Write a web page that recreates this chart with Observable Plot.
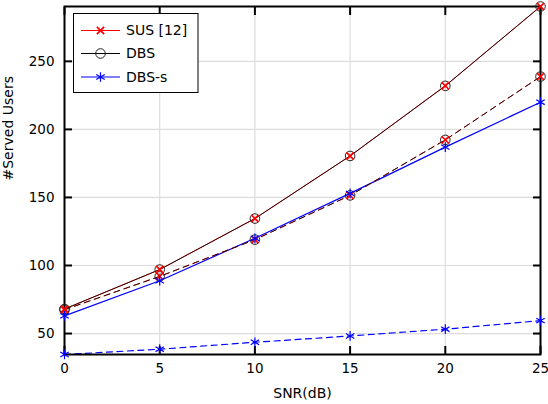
<!DOCTYPE html>
<html>
<head>
<meta charset="utf-8">
<script src="https://cdn.jsdelivr.net/npm/d3@7"></script>
<script src="https://cdn.jsdelivr.net/npm/@observablehq/plot@0.6"></script>
<style>
  body { margin: 0; background: #fff; }
  #wrap { position: relative; width: 548px; height: 404px; }
  #legend { position: absolute; left: 0; top: 0; pointer-events: none; }
</style>
</head>
<body>
<div id="wrap"></div>
<script>
// ---- data ----
const snr = [0, 5, 10, 15, 20, 25];
const xTicks = [0, 5, 10, 15, 20, 25];
const yTicks = [50, 100, 150, 200, 250];
const xDomain = [0, 25];
const yDomain = [34.6, 290.3];

const susSolid   = [68, 97, 134.5, 180.5, 232, 290.3];
const dbsSolid   = [68, 97, 134.5, 180.5, 232, 290.3];
const susDashed  = [67.5, 92, 119, 151.5, 192.3, 238.8];
const dbsDashed  = [67.5, 92, 119, 151.5, 192.3, 238.8];
const dbssSolid  = [63, 88.8, 120, 153, 187, 220];
const dbssDashed = [34.6, 38.5, 43.6, 48.2, 53.2, 59.5];

const seriesNames   = ["SUS [12]", "DBS", "DBS-s"];
const seriesColors  = ["#ff0000", "#000000", "#0000ff"];
const seriesSymbols = ["times", "circle", "asterisk"];
const xLabel = "SNR(dB)";
const yLabel = "#Served Users";

// ---- table ----
const groups = [
  {name: seriesNames[0], vals: susSolid,   dash: null},
  {name: seriesNames[1], vals: dbsSolid,   dash: null},
  {name: seriesNames[2], vals: dbssSolid,  dash: null},
  {name: seriesNames[0], vals: susDashed,  dash: "6,4.5"},
  {name: seriesNames[1], vals: dbsDashed,  dash: "6,4.5"},
  {name: seriesNames[2], vals: dbssDashed, dash: "6,4.5"}
];
const rows = (g) => snr.map((s, i) => ({snr: s, v: g.vals[i]}));

const lineMarks = groups.map(g => {
  const idx = seriesNames.indexOf(g.name);
  return Plot.line(rows(g), {
    x: "snr", y: "v",
    stroke: seriesColors[idx],
    strokeWidth: idx === 2 ? 1.2 : 1,
    strokeOpacity: idx === 1 ? 0.82 : 1,
    strokeDasharray: g.dash
  });
});

const markerStyle = [
  {r: 3.4, strokeWidth: 1.7},
  {r: 4.8, strokeWidth: 1},
  {r: 4.6, strokeWidth: 1.2}
];
const dotMarks = [];
// circles first, then crosses, then asterisks
[1, 0, 2].forEach(idx => {
  groups.filter(g => g.name === seriesNames[idx]).forEach(g => {
    dotMarks.push(Plot.dot(rows(g), {
      x: "snr", y: "v",
      symbol: () => seriesSymbols[idx],
      stroke: idx === 1 ? "#222" : seriesColors[idx],
      r: markerStyle[idx].r,
      strokeWidth: markerStyle[idx].strokeWidth,
      fill: "none"
    }));
  });
});

const tickOpts = {tickSize: -8, strokeWidth: 2, label: null};

const chart = Plot.plot({
  width: 548,
  height: 404,
  marginLeft: 64,
  marginRight: 8,
  marginTop: 6,
  marginBottom: 50,
  style: {fontFamily: "DejaVu Sans", fontSize: "13.5px", color: "#000", background: "#fff"},
  x: {domain: xDomain},
  y: {domain: yDomain},
  marks: [
    Plot.gridX(xTicks, {stroke: "#dcdcdc", strokeOpacity: 1, strokeWidth: 1.2}),
    Plot.gridY(yTicks, {stroke: "#dcdcdc", strokeOpacity: 1, strokeWidth: 1.2}),
    ...lineMarks,
    Plot.frame({stroke: "#000", strokeWidth: 2}),
    Plot.axisX(xTicks, {anchor: "bottom", ...tickOpts, tickPadding: 17}),
    Plot.axisX(xTicks, {anchor: "top", ...tickOpts, tickFormat: () => ""}),
    Plot.axisY(yTicks, {anchor: "left", ...tickOpts, tickPadding: 18}),
    Plot.axisY(yTicks, {anchor: "right", ...tickOpts, tickFormat: () => ""}),
    ...dotMarks,
    Plot.text([xLabel], {frameAnchor: "bottom", text: d => d, dy: 39, fontSize: 14, lineAnchor: "middle"}),
    Plot.text([yLabel], {frameAnchor: "left", text: d => d, dx: -56, rotate: -90, fontSize: 14, lineAnchor: "middle"})
  ]
});

const wrap = document.getElementById("wrap");
wrap.appendChild(chart);

// ---- legend (inside the axes, top-left) ----
const leg = d3.select(wrap).append("svg")
  .attr("id", "legend")
  .attr("width", 548).attr("height", 404)
  .attr("font-family", "DejaVu Sans").attr("font-size", 14);
leg.append("rect")
  .attr("x", 73.5).attr("y", 13.5).attr("width", 124.5).attr("height", 79)
  .attr("fill", "#fff").attr("stroke", "#000").attr("stroke-width", 1);
const symMap = {times: d3.symbolTimes, circle: d3.symbolCircle, asterisk: d3.symbolAsterisk};
const rowY = [30.5, 53.5, 77];
seriesNames.forEach((name, i) => {
  const g = leg.append("g").attr("transform", `translate(0,${rowY[i]})`);
  g.append("line").attr("x1", 81).attr("x2", 120).attr("y1", 0).attr("y2", 0)
    .attr("stroke", seriesColors[i]).attr("stroke-width", 1);
  g.append("path")
    .attr("d", d3.symbol(symMap[seriesSymbols[i]], Math.PI * markerStyle[i].r ** 2)())
    .attr("transform", "translate(100.5,0)")
    .attr("fill", "none")
    .attr("stroke", i === 1 ? "#222" : seriesColors[i])
    .attr("stroke-width", markerStyle[i].strokeWidth);
  g.append("text").attr("x", 126).attr("y", 0).attr("dy", "0.35em")
    .attr("fill", "#000").text(name);
});
</script>
</body>
</html>
